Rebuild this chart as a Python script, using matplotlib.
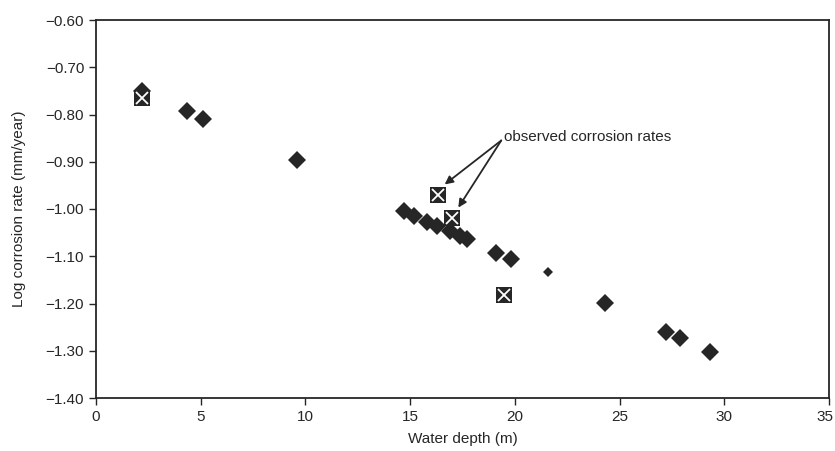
import matplotlib
matplotlib.use("Agg")
import matplotlib.pyplot as plt
from matplotlib.transforms import ScaledTranslation

plt.rcParams['font.family'] = ['Liberation Sans', 'DejaVu Sans']

# Predicted / model points (diamonds)
depth = [2.2, 4.35, 5.1, 9.6, 14.7, 15.2, 15.8, 16.3, 16.9, 17.4, 17.7,
         19.1, 19.8, 24.3, 27.2, 27.9, 29.3]
log_rate = [-0.750, -0.793, -0.810, -0.897, -1.005, -1.015, -1.028, -1.037,
            -1.047, -1.057, -1.064, -1.093, -1.105, -1.199, -1.260, -1.272, -1.303]

# Small diamond
small_depth = [21.6]
small_rate = [-1.133]

# Observed corrosion rates (boxed X)
obs_depth = [2.2, 16.35, 17.0, 19.5]
obs_rate = [-0.765, -0.970, -1.019, -1.182]

xticks = [0, 5, 10, 15, 20, 25, 30, 35]
yticks = [-0.60, -0.70, -0.80, -0.90, -1.00, -1.10, -1.20, -1.30, -1.40]

dark = '#262626'

fig = plt.figure(figsize=(8.35, 4.51), dpi=100)
ax = fig.add_axes([96/835, 1-398/451, (829-96)/835, (398-20)/451])

ax.plot(depth, log_rate, linestyle='none', marker='D', markersize=9.2,
        color=dark, markeredgewidth=0, zorder=3)
ax.plot(small_depth, small_rate, linestyle='none', marker='D', markersize=5.5,
        color=dark, markeredgewidth=0, zorder=3)
ax.plot(obs_depth, obs_rate, linestyle='none', marker='s', markersize=11.5,
        color=dark, markeredgewidth=0, zorder=4)
ax.plot(obs_depth, obs_rate, linestyle='none', marker='x', markersize=8,
        color='white', markeredgewidth=1.3, zorder=5)

# annotation with two arrows
txt_xy = (19.5, -0.847)
ax.text(txt_xy[0], txt_xy[1], 'observed corrosion rates', fontsize=11,
        va='center', ha='left', color=dark)
for i in (1, 2):
    ax.annotate('', xy=(obs_depth[i] + 0.3, obs_rate[i] + 0.022),
                xytext=(19.35, -0.855),
                arrowprops=dict(arrowstyle='-|>', color=dark, lw=1.3,
                                mutation_scale=12, shrinkA=0, shrinkB=0))

ax.set_xlim(0, 35)
ax.set_ylim(-1.40, -0.60)
ax.set_xticks(xticks)
ax.set_xticklabels([str(t) for t in xticks])
ax.set_yticks(yticks)
ax.set_yticklabels(['\u2212%.2f' % abs(t) for t in yticks])
ax.tick_params(direction='out', length=5, width=1, colors=dark,
               labelsize=11, labelcolor=dark)
for s in ax.spines.values():
    s.set_color(dark)
    s.set_linewidth(1.3)

# keep the last x label inside the figure
last = ax.get_xticklabels()[-1]
last.set_transform(last.get_transform() + ScaledTranslation(-4/100, 0, fig.dpi_scale_trans))

ax.set_xlabel('Water depth (m)', fontsize=11, color=dark, labelpad=6)
ax.set_ylabel('Log corrosion rate (mm/year)', fontsize=11, color=dark, labelpad=14)

fig.savefig('out.png', dpi=100)
